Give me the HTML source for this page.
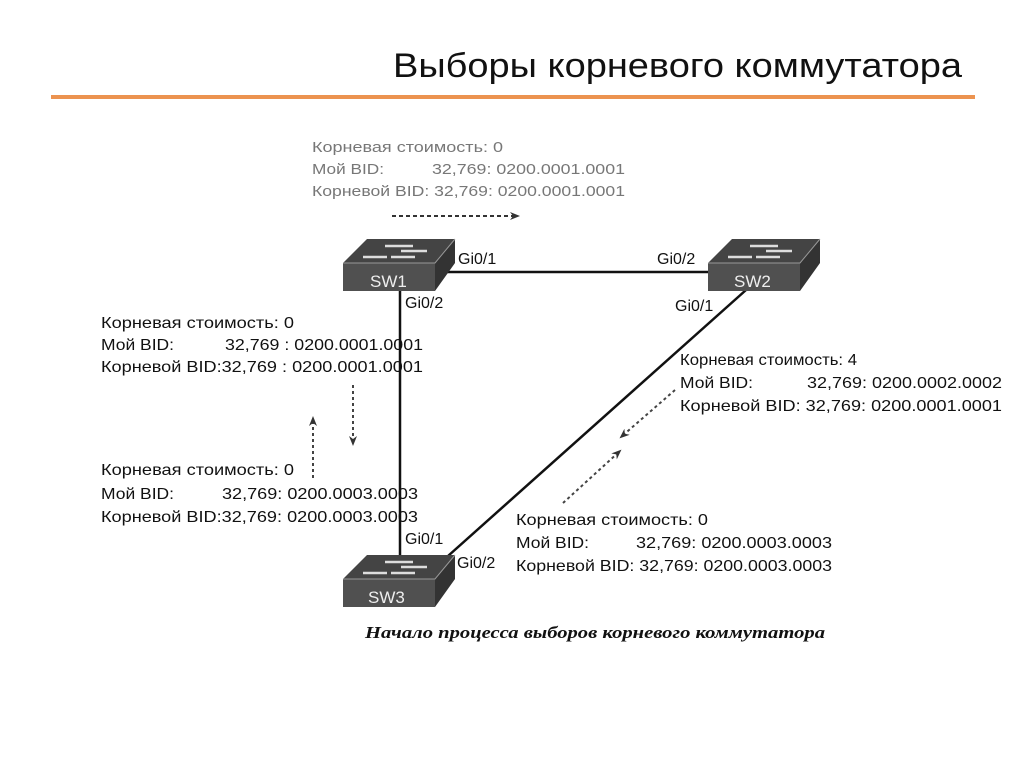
<!DOCTYPE html>
<html><head><meta charset="utf-8"><style>
html,body{margin:0;padding:0;background:#fff;}
svg{display:block}
</style></head><body>
<svg width="1024" height="767" viewBox="0 0 1024 767" xmlns="http://www.w3.org/2000/svg">
<defs>
<marker id="ah" markerWidth="10" markerHeight="8" refX="8" refY="4" orient="auto" markerUnits="userSpaceOnUse">
<path d="M0,0 L10,4 L0,8 L3,4 Z" fill="#333"/>
</marker>
<g id="sw">
<path d="M0,24 L24,0 L112,0 L92,24 Z" fill="#444"/>
<path d="M92,24 L112,0 L112,24 L92,52 Z" fill="#333"/>
<rect x="0" y="24" width="92" height="28" fill="#505050"/>
<path d="M0,24 L92,24 L112,0" stroke="#999" stroke-width="1" fill="none"/>
<g stroke="#ddd" stroke-width="2.5" fill="none">
<line x1="42" y1="7" x2="70" y2="7"/><line x1="58" y1="12" x2="84" y2="12"/>
<line x1="20" y1="18" x2="44" y2="18"/><line x1="48" y1="18" x2="72" y2="18"/>
</g>
</g>
</defs>
<text x="393" y="77" font-family="'Liberation Sans','DejaVu Sans',sans-serif" font-size="34" fill="#111" textLength="569" lengthAdjust="spacingAndGlyphs">Выборы корневого коммутатора</text>
<rect x="51" y="95" width="924" height="4" fill="#ec9350"/>

<g stroke="#111" stroke-width="2.5" fill="none">
<line x1="440" y1="272" x2="710" y2="272"/>
<line x1="400" y1="290" x2="400" y2="580"/>
<line x1="746" y1="290" x2="448" y2="556"/>
</g>
<use href="#sw" x="343" y="239"/>
<use href="#sw" x="708" y="239"/>
<use href="#sw" x="343" y="555"/>
<g font-family="'Liberation Sans',sans-serif" font-size="17" fill="#eee">
<text x="370" y="287">SW1</text><text x="734" y="287">SW2</text><text x="368" y="603">SW3</text>
</g>
<g font-family="'Liberation Sans',sans-serif" font-size="16" fill="#111">
<text x="458" y="264">Gi0/1</text><text x="657" y="264">Gi0/2</text>
<text x="405" y="308">Gi0/2</text><text x="675" y="311">Gi0/1</text>
<text x="405" y="544">Gi0/1</text><text x="457" y="568">Gi0/2</text>
</g>

<g font-family="'Liberation Sans',sans-serif" font-size="15" fill="#777">
<text x="312" y="152" textLength="191" lengthAdjust="spacingAndGlyphs">Корневая стоимость: 0</text>
<text x="312" y="174" textLength="72" lengthAdjust="spacingAndGlyphs">Мой BID:</text><text x="432" y="174" textLength="193" lengthAdjust="spacingAndGlyphs">32,769: 0200.0001.0001</text>
<text x="312" y="196" textLength="313" lengthAdjust="spacingAndGlyphs">Корневой BID: 32,769: 0200.0001.0001</text>
</g>
<line x1="392" y1="216" x2="518" y2="216" stroke="#333" stroke-width="2" stroke-dasharray="4,3" marker-end="url(#ah)"/>

<g font-family="'Liberation Sans',sans-serif" font-size="16" fill="#111">
<text x="101" y="328" textLength="193" lengthAdjust="spacingAndGlyphs">Корневая стоимость: 0</text>
<text x="101" y="350" textLength="73" lengthAdjust="spacingAndGlyphs">Мой BID:</text><text x="225" y="350" textLength="198" lengthAdjust="spacingAndGlyphs">32,769 : 0200.0001.0001</text>
<text x="101" y="372" textLength="322" lengthAdjust="spacingAndGlyphs">Корневой BID:32,769 : 0200.0001.0001</text>

<text x="101" y="475" textLength="193" lengthAdjust="spacingAndGlyphs">Корневая стоимость: 0</text>
<text x="101" y="499" textLength="73" lengthAdjust="spacingAndGlyphs">Мой BID:</text><text x="222" y="499" textLength="196" lengthAdjust="spacingAndGlyphs">32,769: 0200.0003.0003</text>
<text x="101" y="522" textLength="317" lengthAdjust="spacingAndGlyphs">Корневой BID:32,769: 0200.0003.0003</text>

<text x="680" y="365" textLength="177" lengthAdjust="spacingAndGlyphs">Корневая стоимость: 4</text>
<text x="680" y="388" textLength="73" lengthAdjust="spacingAndGlyphs">Мой BID:</text><text x="807" y="388" textLength="195" lengthAdjust="spacingAndGlyphs">32,769: 0200.0002.0002</text>
<text x="680" y="411" textLength="322" lengthAdjust="spacingAndGlyphs">Корневой BID: 32,769: 0200.0001.0001</text>

<text x="516" y="525" textLength="192" lengthAdjust="spacingAndGlyphs">Корневая стоимость: 0</text>
<text x="516" y="548" textLength="73" lengthAdjust="spacingAndGlyphs">Мой BID:</text><text x="636" y="548" textLength="196" lengthAdjust="spacingAndGlyphs">32,769: 0200.0003.0003</text>
<text x="516" y="571" textLength="316" lengthAdjust="spacingAndGlyphs">Корневой BID: 32,769: 0200.0003.0003</text>
</g>

<g stroke="#444" stroke-width="2" stroke-dasharray="3,3" fill="none">
<line x1="353" y1="385" x2="353" y2="444" marker-end="url(#ah)"/>
<line x1="313" y1="478" x2="313" y2="418" marker-end="url(#ah)"/>
<line x1="675" y1="390" x2="621" y2="437" marker-end="url(#ah)"/>
<line x1="563" y1="503" x2="620" y2="451" marker-end="url(#ah)"/>
</g>

<text x="365" y="638" font-family="'Liberation Serif',serif" font-style="italic" font-weight="bold" font-size="17" fill="#111" textLength="460" lengthAdjust="spacingAndGlyphs">Начало процесса выборов корневого коммутатора</text>
</svg>
</body></html>
